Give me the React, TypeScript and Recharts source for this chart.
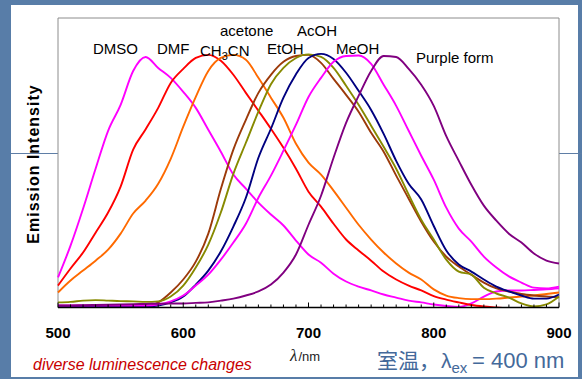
import React from "react";
import { LineChart, Line, XAxis, YAxis, ReferenceArea } from "recharts";

const wavelengths = [
  500, 510, 520, 530, 540, 550, 560, 570, 580, 590, 600, 610, 620, 630, 640, 650, 660, 670, 680, 690, 700,
  710, 720, 730, 740, 750, 760, 770, 780, 790, 800, 810, 820, 830, 840, 850, 860, 870, 880, 890, 900,
];

const dmso = [
  0.118, 0.243, 0.388, 0.545, 0.694, 0.796, 0.929, 0.984, 0.941, 0.902, 0.847, 0.784, 0.698, 0.612, 0.522,
  0.467, 0.412, 0.365, 0.322, 0.263, 0.208, 0.176, 0.133, 0.102, 0.082, 0.067, 0.051, 0.039, 0.027, 0.02,
  0.012, 0.006, 0.002, 0.016, 0.043, 0.063, 0.067, 0.067, 0.069, 0.071, 0.075,
];
const dmf = [
  0.086, 0.153, 0.216, 0.294, 0.373, 0.475, 0.62, 0.7, 0.784, 0.882, 0.937, 0.98, 0.992, 0.969, 0.914,
  0.843, 0.773, 0.702, 0.627, 0.545, 0.455, 0.396, 0.329, 0.267, 0.224, 0.184, 0.141, 0.11, 0.086, 0.067,
  0.045, 0.031, 0.02, 0.01, 0.004, 0, -0.004, -0.008, -0.012, -0.016, -0.02,
];
const ch3cn = [
  0.059, 0.106, 0.145, 0.184, 0.227, 0.29, 0.369, 0.42, 0.486, 0.584, 0.71, 0.827, 0.929, 0.98, 0.992,
  0.973, 0.902, 0.824, 0.745, 0.643, 0.569, 0.522, 0.459, 0.392, 0.325, 0.267, 0.216, 0.173, 0.137, 0.11,
  0.071, 0.047, 0.037, 0.033, 0.033, 0.035, 0.039, 0.043, 0.047, 0.053, 0.059,
];
const acetone = [
  0.002, 0.002, 0.002, 0.002, 0.002, 0.002, 0.002, 0.002, 0.02, 0.059, 0.11, 0.18, 0.29, 0.465, 0.62,
  0.737, 0.843, 0.914, 0.965, 0.988, 0.992, 0.961, 0.898, 0.835, 0.769, 0.686, 0.612, 0.518, 0.427, 0.337,
  0.259, 0.2, 0.161, 0.129, 0.098, 0.075, 0.063, 0.053, 0.047, 0.043, 0.04,
];
const etoh = [
  0.02, 0.022, 0.027, 0.029, 0.027, 0.025, 0.024, 0.022, 0.024, 0.043, 0.086, 0.157, 0.247, 0.373, 0.525,
  0.647, 0.769, 0.877, 0.941, 0.98, 0.994, 0.984, 0.941, 0.871, 0.796, 0.714, 0.631, 0.545, 0.443, 0.345,
  0.267, 0.188, 0.141, 0.129, 0.078, 0.055, 0.039, 0.016, 0.004, 0.012, 0.043,
];
const acoh = [
  0.004, 0.004, 0.004, 0.004, 0.004, 0.004, 0.004, 0.004, 0.008, 0.02, 0.043, 0.09, 0.145, 0.22, 0.318,
  0.431, 0.588, 0.702, 0.824, 0.916, 0.98, 0.996, 0.976, 0.922, 0.851, 0.776, 0.682, 0.576, 0.486, 0.424,
  0.32, 0.224, 0.169, 0.141, 0.11, 0.082, 0.063, 0.047, 0.035, 0.035, 0.051,
];
const meoh = [
  0.008, 0.008, 0.008, 0.008, 0.008, 0.008, 0.008, 0.008, 0.012, 0.024, 0.047, 0.086, 0.129, 0.188, 0.255,
  0.329, 0.431, 0.518, 0.616, 0.718, 0.827, 0.902, 0.965, 0.988, 0.99, 0.957, 0.875, 0.792, 0.694, 0.596,
  0.502, 0.392, 0.31, 0.259, 0.2, 0.157, 0.122, 0.098, 0.078, 0.075, 0.082,
];
const purple = [
  0.008, 0.008, 0.009, 0.01, 0.011, 0.012, 0.013, 0.014, 0.015, 0.016, 0.016, 0.018, 0.02, 0.027, 0.035,
  0.047, 0.063, 0.09, 0.137, 0.208, 0.325, 0.439, 0.588, 0.725, 0.831, 0.929, 0.988, 0.984, 0.937, 0.875,
  0.792, 0.673, 0.576, 0.482, 0.4, 0.341, 0.29, 0.255, 0.212, 0.184, 0.173,
];

const series = [
  { key: "dmso", values: dmso, color: "#ff00ff" },
  { key: "dmf", values: dmf, color: "#ff0000" },
  { key: "ch3cn", values: ch3cn, color: "#ff6a00" },
  { key: "acetone", values: acetone, color: "#9c3a0a" },
  { key: "etoh", values: etoh, color: "#878a00" },
  { key: "acoh", values: acoh, color: "#000080" },
  { key: "meoh", values: meoh, color: "#ff00ff" },
  { key: "purple", values: purple, color: "#800080" },
];

const rows = wavelengths.map((wl, i) => {
  const r: Record<string, number> = { wl };
  series.forEach((s) => (r[s.key] = s.values[i]));
  return r;
});

const font = "'Liberation Sans', Arial, sans-serif";

function BottomTick(props: any) {
  const { x, y, payload } = props;
  const v = payload.value;
  const major = v % 100 === 0;
  return (
    <g>
      <line x1={x} x2={x} y1={y} y2={y - (major ? 5 : 3)} stroke="#000" strokeWidth={1} />
      {major && (
        <text x={x} y={y + 30} textAnchor="middle" fontSize={15} fontWeight="bold" fontFamily={font} fill="#000">
          {v}
        </text>
      )}
    </g>
  );
}

export default function App() {
  return (
    <div style={{ position: "absolute", left: 0, top: 0, width: 582, height: 379, background: "#587da8", overflow: "hidden" }}>
      <div style={{ position: "absolute", left: 11, top: 5, width: 567, height: 372, background: "#fff" }} />
      <div style={{ position: "absolute", left: 11, top: 153, width: 47, height: 1, background: "#5f7ea6" }} />
      <div style={{ position: "absolute", left: 559, top: 153, width: 23, height: 1, background: "#5f7ea6" }} />
      <div style={{ position: "absolute", left: 0, top: 0 }}>
        <LineChart width={582} height={379} data={rows} margin={{ top: 18, right: 23, bottom: 41.5, left: 58 }}>
          <XAxis
            dataKey="wl"
            type="number"
            domain={[500, 900]}
            ticks={wavelengths}
            interval={0}
            tickSize={0}
            tickMargin={0}
            tickLine={false}
            tick={(p: any) => <BottomTick {...p} />}
            axisLine={{ stroke: "#000", strokeWidth: 1.5 }}
            height={30}
          />
          <YAxis hide domain={[0, 1.137]} allowDataOverflow />
          <ReferenceArea x1={500} x2={900} y1={0} y2={1.137} stroke="#8c8c8c" strokeWidth={1} fill="#fff" fillOpacity={1} />
          {series.map((s) => (
            <Line
              key={s.key}
              dataKey={s.key}
              type="monotone"
              stroke={s.color}
              strokeWidth={1.9}
              dot={false}
              isAnimationActive={false}
            />
          ))}
        </LineChart>
      </div>
      <svg width={582} height={379} style={{ position: "absolute", left: 0, top: 0, pointerEvents: "none" }}>
        <g fontFamily={font} fontSize={15} fill="#000">
          <text x={93} y={54}>DMSO</text>
          <text x={157} y={54}>DMF</text>
          <text x={200} y={56}>
            CH<tspan fontSize={11} dy={4}>3</tspan>
            <tspan dy={-4}>CN</tspan>
          </text>
          <text x={220} y={36}>acetone</text>
          <text x={267} y={54}>EtOH</text>
          <text x={297} y={36}>AcOH</text>
          <text x={336} y={54}>MeOH</text>
          <text x={416} y={63}>Purple form</text>
        </g>
        <text
          transform="translate(39,164) rotate(-90)"
          textAnchor="middle"
          fontFamily={font}
          fontSize={16}
          fontWeight="bold"
          letterSpacing={1}
          fill="#000"
        >
          Emission Intensity
        </text>
        <text x={290} y={361} fill="#222">
          <tspan fontFamily="'Liberation Serif', serif" fontStyle="italic" fontSize={17}>λ</tspan>
          <tspan fontFamily={font} fontSize={13} dx={1}>/nm</tspan>
        </text>
        <text x={33} y={370} fontFamily={font} fontStyle="italic" fontSize={16} fill="#c80000">
          diverse luminescence changes
        </text>
        <text x={377} y={368} fill="#44699a" fontSize={21}>
          <tspan fontFamily="'Noto Sans CJK JP', sans-serif">室温，</tspan>
          <tspan fontFamily={font} x={441}>λ</tspan>
          <tspan fontFamily={font} fontSize={15} dy={5}>ex</tspan>
          <tspan fontFamily={font} fontSize={22} dy={-5} x={472}>= 400 nm</tspan>
        </text>
      </svg>
    </div>
  );
}
